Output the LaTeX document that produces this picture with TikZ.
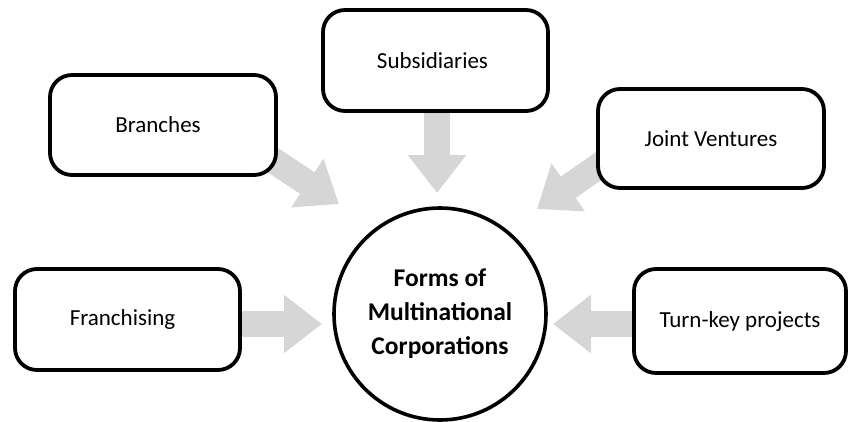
\documentclass[tikz,border=0pt]{standalone}
\usepackage{fontspec}
\setmainfont{Carlito}
\usetikzlibrary{arrows.meta,backgrounds}

\tikzset{
  formbox/.style={draw=black, fill=white, line width=3.8pt, rounded corners=22pt,
    inner sep=0pt, font=\fontsize{23}{28}\selectfont},
  hub/.style={draw=black, fill=white, circle, line width=3.6pt, inner sep=0pt,
    minimum size=212pt, align=center, font=\bfseries\fontsize{25.5}{34}\selectfont},
  blockarrow/.style={draw=black!16, line width=26pt,
    -{Triangle[width=56pt,length=38pt]}}
}

\begin{document}
\begin{tikzpicture}[x=1pt, y=-1pt]
  \useasboundingbox (0,0) rectangle (849,421);

  % the five forms around the central circle
  \node[formbox, minimum width=226pt, minimum height=100pt] (branches) at (163,125) {\hspace*{-10pt}Branches};
  \node[formbox, minimum width=225pt, minimum height=101pt] (subs) at (435.5,60.5) {\hspace*{-6pt}Subsidiaries};
  \node[formbox, minimum width=226pt, minimum height=99pt] (jv) at (711,138.5) {Joint Ventures};
  \node[formbox, minimum width=225pt, minimum height=101pt] (franch) at (127.5,319.5) {\hspace*{-10pt}Franchising};
  \node[formbox, minimum width=212pt, minimum height=104pt] (turnkey) at (740,321) {Turn-key projects};

  \node[hub] (mnc) at (440,314) {Forms of\\Multinational\\Corporations};

  % shaft origins (hidden under the boxes) and arrow tips
  \coordinate (branches-from) at (256,149);
  \coordinate (branches-tip) at (339,204);
  \coordinate (subs-from) at (437,60);
  \coordinate (subs-tip) at (437,193);
  \coordinate (jv-from) at (619,152);
  \coordinate (jv-tip) at (537,209);
  \coordinate (franch-from) at (200,324);
  \coordinate (franch-tip) at (322,324);
  \coordinate (turnkey-from) at (740,324);
  \coordinate (turnkey-tip) at (553,324);

  \begin{pgfonlayer}{background}
    \draw[blockarrow] (branches-from) -- (branches-tip);
    \draw[blockarrow] (subs-from) -- (subs-tip);
    \draw[blockarrow] (jv-from) -- (jv-tip);
    \draw[blockarrow] (franch-from) -- (franch-tip);
    \draw[blockarrow] (turnkey-from) -- (turnkey-tip);
  \end{pgfonlayer}
\end{tikzpicture}
\end{document}
